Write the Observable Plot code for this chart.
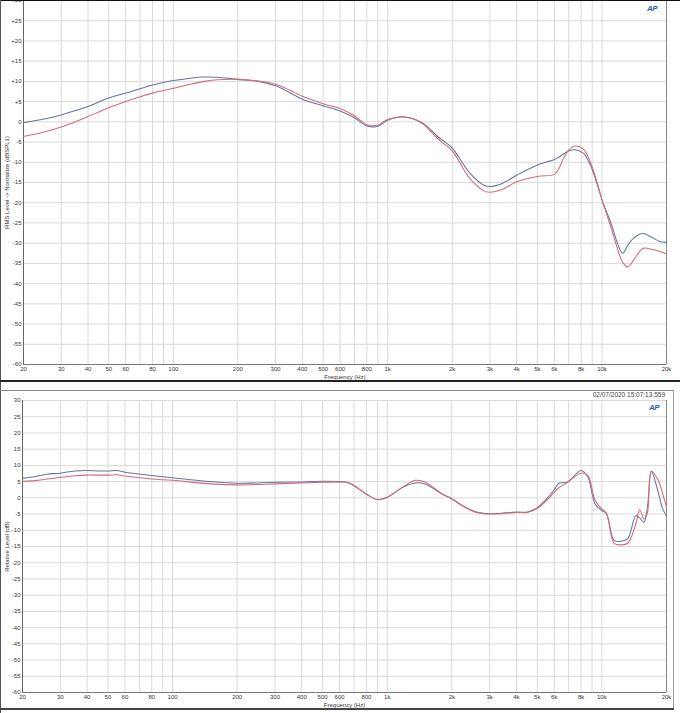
<!DOCTYPE html>
<html><head><meta charset="utf-8">
<script src="https://cdn.jsdelivr.net/npm/d3@7"></script>
<script src="https://cdn.jsdelivr.net/npm/@observablehq/plot@0.6"></script>
<style>
html,body{margin:0;padding:0;background:#fff;}
#wrap{position:relative;width:680px;height:713px;overflow:hidden;font-family:"Liberation Sans",Arial,sans-serif;background:#fff;}
#top{position:absolute;left:0;top:0;width:680px;height:380px;}
#bot{position:absolute;left:0;top:390px;width:680px;height:323px;}
.ln{position:absolute;}
.logo{position:absolute;color:#2364ae;font:italic bold 8px "Liberation Sans",Arial,sans-serif;letter-spacing:-0.5px;}
.stamp{position:absolute;font:6.5px "Liberation Sans",Arial,sans-serif;color:#444;}
</style></head>
<body>
<div id="wrap">
  <div id="top"></div>
  <div id="bot"></div>
  <div class="ln" style="left:0;top:0;width:680px;height:1px;background:#111"></div>
  <div class="ln" style="left:0;top:0;width:1px;height:713px;background:#555"></div>
  <div class="ln" style="left:0;top:380px;width:680px;height:1.5px;background:#222"></div>
  <div class="ln" style="left:0;top:390px;width:674px;height:1px;background:#888"></div>
  <div class="ln" style="left:673px;top:390px;width:1px;height:319px;background:#999"></div>
  <div class="ln" style="left:0;top:708px;width:674px;height:1.5px;background:#444"></div>
  <div class="logo" style="left:647px;top:4px">AP</div>
  <div class="logo" style="left:649px;top:403px">AP</div>
  <div class="stamp" style="right:15px;top:391px">02/07/2020 15:07:13.559</div>
</div>
<script>
// ---------- data ----------
const topFreq = [20,25,30,35,40,50,60,70,80,100,120,140,160,200,250,300,350,400,500,600,700,800,900,1000,1200,1450,1700,2000,2400,2800,3000,3400,4000,5000,6000,6300,6600,7000,7500,8200,8800,9500,10000,11000,12000,12500,13200,14000,15500,17000,18500,20000];
const topCh1 = [-0.2,0.7,1.7,2.8,3.8,5.9,7.1,8.2,9.1,10.2,10.8,11.1,11.0,10.5,10.0,8.9,7.2,5.6,4.0,2.7,1.0,-1.0,-1.1,0.4,1.2,-0.2,-3.5,-6.5,-12.5,-15.6,-16.0,-15.3,-13.2,-10.7,-9.3,-8.7,-8.0,-7.2,-6.9,-7.8,-10.5,-15.5,-19.3,-25.0,-31.0,-32.5,-30.5,-28.8,-27.6,-28.5,-29.5,-29.8];
const topCh2 = [-3.6,-2.5,-1.3,0.0,1.3,3.5,5.0,6.2,7.1,8.3,9.3,10.0,10.4,10.5,10.1,9.3,7.8,6.3,4.5,3.3,1.5,-0.7,-0.8,0.6,1.2,-0.4,-4.0,-7.2,-13.8,-17.0,-17.4,-16.8,-14.8,-13.5,-13.0,-11.5,-9.2,-7.0,-6.0,-6.8,-9.8,-15.0,-19.3,-26.0,-32.5,-34.8,-35.8,-34.3,-31.3,-31.5,-32.0,-32.7];

const botFreq = [20,23,26,30,35,40,45,50,55,60,80,100,150,200,300,400,500,600,650,700,800,900,1000,1200,1350,1500,1800,2000,2300,2600,3000,4000,4500,5000,5500,6000,6300,6900,8000,8600,9300,10000,10500,11400,12300,13200,14400,15000,15700,16300,17000,18300,19200,20000];
const botCh1 = [6.0,6.6,7.3,7.6,8.3,8.4,8.3,8.3,8.4,7.9,6.9,6.2,5.0,4.5,4.8,4.9,5.1,5.0,4.8,3.8,1.2,-0.5,0.2,3.5,4.6,4.3,1.2,-0.3,-2.8,-4.4,-4.9,-4.4,-4.4,-3.0,-0.5,2.5,4.5,4.8,8.4,6.4,-1.9,-3.9,-4.9,-13.1,-13.4,-12.6,-5.5,-6.2,-7.5,-2.9,8.2,1.7,-3.4,-5.5];
const botCh2 = [5.1,5.3,5.8,6.3,6.8,7.0,7.0,7.0,7.1,6.7,5.8,5.4,4.3,4.0,4.3,4.6,4.8,4.9,4.7,3.7,1.1,-0.6,0.1,3.6,5.4,4.9,1.2,-0.4,-2.9,-4.5,-5.0,-4.5,-4.5,-3.3,-1.0,1.7,3.1,4.8,7.6,6.9,-0.8,-3.4,-4.7,-14.0,-14.5,-14.0,-8.0,-3.7,-6.5,-4.6,8.2,5.4,1.2,-2.9];

// labelled frequencies (others in each decade get a gridline only)
const xTickVals = [20,30,40,50,60,80,100,200,300,400,500,600,800,1000,2000,3000,4000,5000,6000,8000,10000,20000];
const gridFreq = [20,30,40,50,60,70,80,90,100,200,300,400,500,600,700,800,900,1000,2000,3000,4000,5000,6000,7000,8000,9000,10000,20000];
const yTicks = [-60,-55,-50,-45,-40,-35,-30,-25,-20,-15,-10,-5,0,5,10,15,20,25,30];
const seriesColors = ["#63769c", "#d86a77"];
const topYLabel = "RMS Level -> Normalize (dBSPL1)";
const botYLabel = "Relative Level (dB)";
const xLabel = "Frequency (Hz)";

// ---------- drawing ----------
const fmtHz = f => {
  const hit = xTickVals.find(t => Math.abs(t - f) < 1e-6 * t);
  if (hit === undefined) return "";
  return hit >= 1000 ? (hit / 1000) + "k" : String(hit);
};
const fmtPlus = v => v > 0 ? "+" + v : String(v);
const fmtPlain = v => String(v);

function panel({freq, ch1, ch2, height, marginTop, marginBottom, marginLeft, yLabel, yFmt, yLabelOffset, xLabelOffset}) {
  const d1 = freq.map((f, i) => ({f, v: ch1[i]}));
  const d2 = freq.map((f, i) => ({f, v: ch2[i]}));
  return Plot.plot({
    width: 680, height, marginTop, marginBottom, marginLeft, marginRight: 14,
    style: {fontFamily: "Liberation Sans, Arial, sans-serif", fontSize: "6px", color: "#333", background: "transparent", overflow: "hidden"},
    x: {type: "log", domain: [20, 20000], ticks: 50, tickFormat: fmtHz, tickSize: 0, tickPadding: 2,
        label: xLabel, labelAnchor: "center", labelOffset: xLabelOffset, labelArrow: "none"},
    y: {domain: [-60, 30], ticks: yTicks, tickFormat: yFmt, tickSize: 0, tickPadding: 2,
        label: yLabel, labelAnchor: "center", labelOffset: yLabelOffset, labelArrow: "none"},
    marks: [
      Plot.ruleX(gridFreq, {stroke: "#dadada", strokeWidth: 1}),
      Plot.ruleY(yTicks, {stroke: "#dadada", strokeWidth: 1}),
      Plot.ruleX([20000], {stroke: "#888"}),
      Plot.ruleX([20], {stroke: "#666"}),
      Plot.ruleY([-60], {stroke: "#777"}),
      Plot.line(d1, {x: "f", y: "v", stroke: seriesColors[0], strokeWidth: 1.05, curve: "catmull-rom"}),
      Plot.line(d2, {x: "f", y: "v", stroke: seriesColors[1], strokeWidth: 1.05, curve: "catmull-rom"})
    ]
  });
}

document.getElementById("top").append(panel({
  freq: topFreq, ch1: topCh1, ch2: topCh2, height: 380, marginTop: 0, marginBottom: 16, marginLeft: 23,
  yLabel: topYLabel, yFmt: fmtPlus, yLabelOffset: 19, xLabelOffset: 14
}));
document.getElementById("bot").append(panel({
  freq: botFreq, ch1: botCh1, ch2: botCh2, height: 323, marginTop: 10, marginBottom: 21, marginLeft: 22,
  yLabel: botYLabel, yFmt: fmtPlain, yLabelOffset: 18, xLabelOffset: 14
}));
</script>
</body></html>
